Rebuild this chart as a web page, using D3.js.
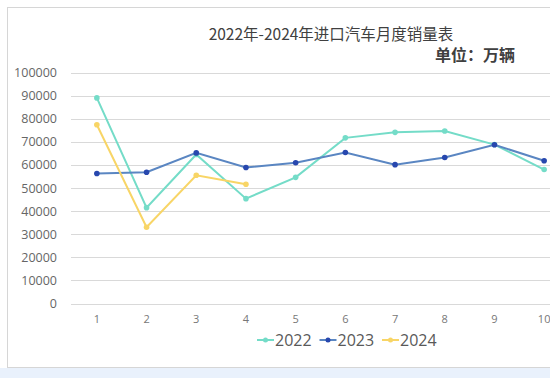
<!DOCTYPE html>
<html>
<head>
<meta charset="utf-8">
<script src="https://cdn.jsdelivr.net/npm/d3@7"></script>
<style>
  body { margin: 0; background: #fff; }
  svg { display: block; font-family: "Microsoft YaHei", "Noto Sans CJK SC", sans-serif; }
</style>
</head>
<body>
<svg class="canvas"></svg>
<script>
const months = ["1", "2", "3", "4", "5", "6", "7", "8", "9", "10", "11", "12"];
const sales2022 = [89000, 41500, 64500, 45400, 54600, 71700, 74100, 74700, 68800, 58000];
const sales2023 = [56300, 56800, 65200, 58900, 60900, 65400, 60100, 63200, 68700, 61800];
const sales2024 = [77400, 33000, 55500, 51600];
const yTicks = [0, 10000, 20000, 30000, 40000, 50000, 60000, 70000, 80000, 90000, 100000];
const seriesNames = ["2022", "2023", "2024"];

const width = 550;
const height = 378;

const series = [
	{ name: seriesNames[0], values: sales2022, line: "#74dcc8", dot: "#74dcc8" },
	{ name: seriesNames[1], values: sales2023, line: "#5a86c2", dot: "#2747ae" },
	{ name: seriesNames[2], values: sales2024, line: "#f8d566", dot: "#f8d566" }
];

const svg = d3.select(".canvas")
	.attr("width", width)
	.attr("height", height);

// page background strip under the card
svg.append("rect")
	.attr("x", 0).attr("y", 368)
	.attr("width", width).attr("height", 10)
	.attr("fill", "#e9f1fc");

// card
svg.append("rect")
	.attr("x", 7.5).attr("y", 7.5)
	.attr("width", 600).attr("height", 360)
	.attr("fill", "#fff")
	.attr("stroke", "#d6d6d6");

const x = d3.scaleBand()
	.domain(months)
	.range([72, 72 + 49.7 * 12]);

const y = d3.scaleLinear()
	.domain([0, 100000])
	.range([303.5, 72.5]);

// gridlines
svg.append("g")
	.selectAll("line")
	.data(yTicks)
	.join("line")
	.attr("x1", 71)
	.attr("x2", width)
	.attr("y1", d => Math.round(y(d)) + 0.5)
	.attr("y2", d => Math.round(y(d)) + 0.5)
	.attr("stroke", "#d9d9d9")
	.attr("stroke-width", 1);

// y axis labels
const yAxis = d3.axisLeft(y).tickValues(yTicks).tickSize(0).tickPadding(0).tickFormat(d3.format("d"));
svg.append("g")
	.attr("transform", "translate(57,0)")
	.call(yAxis)
	.call(g => g.select(".domain").remove())
	.selectAll("text")
	.attr("fill", "#666")
	.style("font-size", "12.5px")
	.style("font-family", "'Open Sans', sans-serif");

// x axis labels
const xAxis = d3.axisBottom(x).tickSize(0).tickPadding(0);
svg.append("g")
	.attr("transform", "translate(0,315)")
	.call(xAxis)
	.call(g => g.select(".domain").remove())
	.selectAll("text")
	.attr("fill", "#777")
	.style("font-size", "11px")
	.style("font-family", "'Open Sans', sans-serif");

const line = d3.line()
	.x((d, i) => x(months[i]) + x.bandwidth() / 2)
	.y(d => y(d));

series.forEach(s => {
	svg.append("path")
		.datum(s.values)
		.attr("fill", "none")
		.attr("stroke", s.line)
		.attr("stroke-width", 2)
		.attr("d", line);

	svg.append("g")
		.selectAll("circle")
		.data(s.values)
		.join("circle")
		.attr("cx", (d, i) => x(months[i]) + x.bandwidth() / 2)
		.attr("cy", d => y(d))
		.attr("r", 2.8)
		.attr("fill", s.dot);
});

// title
svg.append("text")
	.attr("x", 331)
	.attr("y", 40)
	.attr("text-anchor", "middle")
	.attr("fill", "#404040")
	.style("font-size", "15.5px")
	.text("2022年-2024年进口汽车月度销量表");

svg.append("text")
	.attr("x", 515)
	.attr("y", 61)
	.attr("text-anchor", "end")
	.attr("fill", "#404040")
	.style("font-size", "16px")
	.style("font-weight", "bold")
	.text("单位：万辆");

// legend
const legend = svg.append("g")
	.selectAll("g")
	.data(series)
	.join("g")
	.attr("transform", (d, i) => `translate(${257 + i * 62.5},340)`);

legend.append("line")
	.attr("x1", 0).attr("x2", 17)
	.attr("stroke", d => d.line)
	.attr("stroke-width", 2);

legend.append("circle")
	.attr("cx", 8.5)
	.attr("r", 2.5)
	.attr("fill", d => d.dot);

legend.append("text")
	.attr("x", 18)
	.attr("y", 6)
	.attr("fill", "#595959")
	.style("font-size", "16px")
	.style("font-family", "'Open Sans', sans-serif")
	.text(d => d.name);
</script>
</body>
</html>
